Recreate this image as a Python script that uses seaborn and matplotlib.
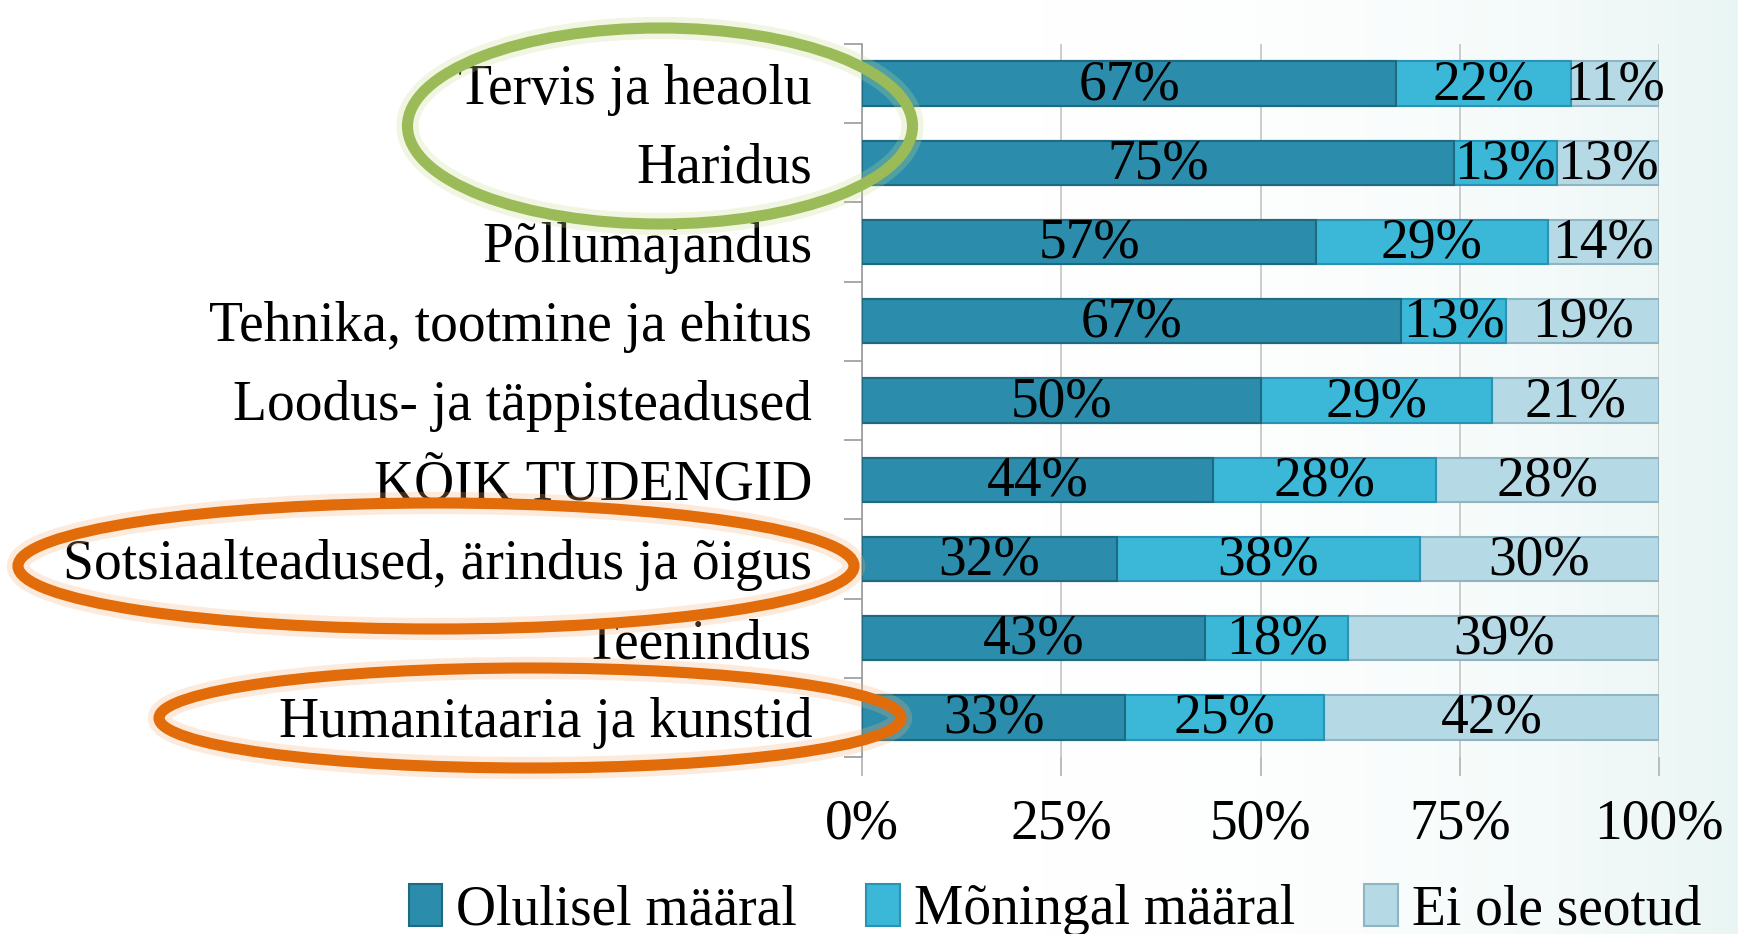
import numpy as np
import pandas as pd
import seaborn as sns
import matplotlib.pyplot as plt
from matplotlib.patches import Ellipse, Patch

categories = ['Tervis ja heaolu', 'Haridus', 'Põllumajandus', 'Tehnika, tootmine ja ehitus',
              'Loodus- ja täppisteadused', 'KÕIK TUDENGID', 'Sotsiaalteadused, ärindus ja õigus',
              'Teenindus', 'Humanitaaria ja kunstid']
olulisel = [67, 75, 57, 67, 50, 44, 32, 43, 33]
moningal = [22, 13, 29, 13, 29, 28, 38, 18, 25]
ei_ole = [11, 13, 14, 19, 21, 28, 30, 39, 42]
series_names = ['Olulisel määral', 'Mõningal määral', 'Ei ole seotud']
colors = ['#2b8dab', '#3bb7d8', '#b6d9e6']
edges = ['#1d6a82', '#2a93b3', '#8fb5c4']

sns.set_theme(style='white')
plt.rcParams['font.family'] = ['Liberation Serif', 'DejaVu Serif']
plt.rcParams['text.color'] = 'black'
plt.rcParams['xtick.color'] = 'black'
plt.rcParams['ytick.color'] = 'black'
FS = 40

df = pd.DataFrame({'cat': categories, 'a': olulisel, 'b': moningal, 'c': ei_ole})
tot = df[['a', 'b', 'c']].sum(axis=1)
# 100% stacked: normalise each row
df['pa'] = df['a'] / tot * 100
df['pb'] = df['b'] / tot * 100
df['pc'] = df['c'] / tot * 100
df['cum2'] = df['pa'] + df['pb']
df['cum3'] = df['cum2'] + df['pc']

fig = plt.figure(figsize=(17.38, 9.34), dpi=100)
fig.patch.set_facecolor('white')

# faint background wash
bg = fig.add_axes([0, 0, 1, 1], zorder=-5)
gx = np.linspace(0, 1, 400)
grad = np.clip((gx - 0.6) / 0.4, 0, 1) ** 2
img = np.ones((2, 400, 3))
tint = np.array([0.86, 0.94, 0.93])
img[:, :, :] = 1 - (1 - tint) * grad[None, :, None] * 0.6
bg.imshow(img, aspect='auto', extent=[0, 1, 0, 1])
bg.axis('off')

ax = fig.add_axes([0.496, 0.1895, 0.4586, 0.7635])
ax.set_facecolor('none')

sns.barplot(data=df, x='cum3', y='cat', orient='h', color=colors[2], width=0.56, saturation=1,
            edgecolor=edges[2], linewidth=1.5, ax=ax, zorder=3)
sns.barplot(data=df, x='cum2', y='cat', orient='h', color=colors[1], width=0.56, saturation=1,
            edgecolor=edges[1], linewidth=1.5, ax=ax, zorder=4)
sns.barplot(data=df, x='pa', y='cat', orient='h', color=colors[0], width=0.56, saturation=1,
            edgecolor=edges[0], linewidth=1.5, ax=ax, zorder=5)

for i, row in df.iterrows():
    starts = [0, row['pa'], row['cum2']]
    widths = [row['pa'], row['pb'], row['pc']]
    vals = [row['a'], row['b'], row['c']]
    for s, w, v in zip(starts, widths, vals):
        ax.text(s + w / 2, i + 0.02, f'{v}%', ha='center', va='center',
                fontsize=FS, color='black', zorder=10)

ax.set_xlim(0, 100)
ax.set_ylim(len(categories) - 0.5, -0.5)
ax.set_xticks([0, 25, 50, 75, 100])
ax.set_xticklabels(['0%', '25%', '50%', '75%', '100%'], fontsize=FS)
ax.set_yticks(range(len(categories)))
ax.set_yticklabels(categories, fontsize=FS)
ax.set_yticks(np.arange(-0.5, len(categories), 1), minor=True)
ax.tick_params(axis='y', which='major', length=0, pad=36)
ax.tick_params(axis='y', which='minor', length=13, width=1.2, color='#9a9a9a', left=True)
ax.tick_params(axis='x', length=14, width=1.2, color='#b0b0b0', bottom=True, pad=16)
ax.set_xlabel('')
ax.set_ylabel('')
ax.grid(axis='x', color='#c4c4c4', linewidth=1.2, zorder=0)
ax.set_axisbelow(True)
for s in ['top', 'right', 'bottom']:
    ax.spines[s].set_visible(False)
ax.spines['left'].set_color('#9a9a9a')
ax.spines['left'].set_linewidth(1.2)

handles = [Patch(facecolor=c, edgecolor=e, linewidth=1.5) for c, e in zip(colors, edges)]
fig.legend(handles, series_names, loc='lower center', bbox_to_anchor=(0.607, -0.056), ncol=3,
           frameon=False, fontsize=FS, handlelength=0.6, handleheight=0.8,
           handletextpad=0.25, columnspacing=1.25)

# highlight ellipses (figure pixel coordinates)
W, H = 1738, 934
def ring(cx, cy, w, h, col, glow):
    for lw, a, c in [(16, 0.25, glow), (8, 1.0, col)]:
        fig.add_artist(Ellipse((cx / W, 1 - cy / H), w / W, h / H, transform=fig.transFigure,
                               fill=False, edgecolor=c, linewidth=lw, alpha=a, zorder=20))

ring(660, 126, 505, 196, '#9bbb59', '#c5dc8f')
ring(436, 566, 836, 126, '#e36c0a', '#f6b27a')
ring(530, 718, 742, 100, '#e36c0a', '#f6b27a')

fig.savefig('out.png', dpi=100)
